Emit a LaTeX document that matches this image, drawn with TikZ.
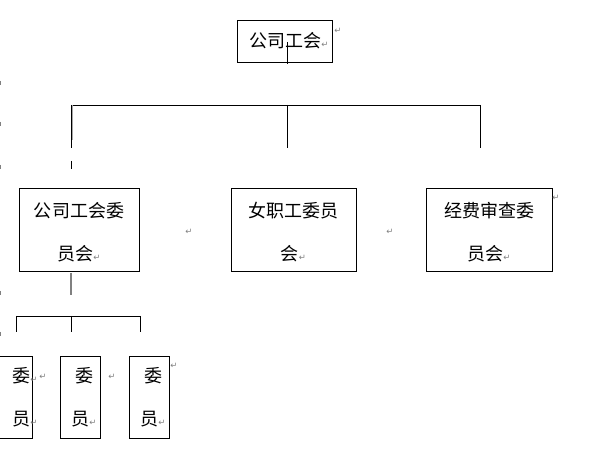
\documentclass[tikz,border=0pt]{standalone}
\usepackage{fontspec}
\usepackage{xcolor}
\usepackage{tikz}
\usetikzlibrary{positioning}
\newfontfamily\cjk{Noto Sans CJK SC}
\newfontfamily\symfont{DejaVu Sans}
\newcommand{\retmark}{{\symfont\fontsize{8.5}{8.5}\selectfont\textcolor{gray}{↵}}}
\newcommand{\padl}[1]{\hspace*{#1pt}}
\newcommand{\topstrut}{\rule{0pt}{20pt}}

\begin{document}
\begin{tikzpicture}[x=1pt,y=-1pt,
	box/.style={draw,line width=0.9pt,inner sep=0pt,align=center,
		font=\cjk\fontsize{18}{43}\selectfont},
	ret/.style={inner sep=0pt,font=\symfont\fontsize{8.5}{8.5}\selectfont,text=gray},
	wire/.style={line width=0.9pt}]
	\useasboundingbox (0,0) rectangle (589,454);
	%
	%  BOXES
	%
	\node[box,minimum width=95pt,minimum height=42pt] (U) at (284.5,41) {\padl{9}公司工会\retmark};
	\node[box,minimum width=120pt,minimum height=83pt] (A) at (79,229.5) {\topstrut{}公司工会委\\员会\retmark};
	\node[box,minimum width=125pt,minimum height=83pt] (B) at (293.5,229.5) {\topstrut{}女职工委员\\会\retmark};
	\node[box,minimum width=126pt,minimum height=83pt] (C) at (489,229.5) {\topstrut{}经费审查委\\员会\retmark};
	\node[box,minimum width=40pt,minimum height=82pt] (A1) at (12,397)
		{\makebox[0pt]{\padl{26}委\retmark}\\\makebox[0pt]{\padl{26}员\retmark}};
	\node[box,minimum width=40pt,minimum height=82pt] (A2) at (80,397) {\padl{9}委\\\padl{8}员\retmark};
	\node[box,minimum width=40pt,minimum height=82pt] (A3) at (149,397) {\padl{9}委\\\padl{8}员\retmark};
	%
	%  MARKS
	%
	\node[ret] (r1) at (338,31) {↵};
	\node[ret] (r2) at (189,232) {↵};
	\node[ret] (r3) at (390,232) {↵};
	\node[ret] (r4) at (556,198) {↵};
	\node[ret] (r5) at (43,377) {↵};
	\node[ret] (r6) at (112,377) {↵};
	\node[ret] (r7) at (174,366) {↵};
	\foreach \y in {83,124,167,293,334}
		\draw[gray,line width=1pt] (0.5,\y-2) -- (0.5,\y+2);
	%
	%  WIRES
	%
	\coordinate (u0) at (287,42);
	\coordinate (u1) at (287,64);
	\coordinate (busL) at (71,105);
	\coordinate (busM) at (287,105);
	\coordinate (busR) at (480,105);
	\coordinate (dL) at (71,148);
	\coordinate (dM) at (287,148);
	\coordinate (dR) at (480,148);
	\coordinate (tL0) at (71,161);
	\coordinate (tL1) at (71,169);
	\coordinate (a0) at (71,273);
	\coordinate (a1) at (71,295);
	\coordinate (sub1) at (16,316);
	\coordinate (sub2) at (71,316);
	\coordinate (sub3) at (140,316);
	\draw[wire] (u0) -- (u1);
	\draw[wire] (busL) -- (busR);
	\draw[wire] (busL) -- (dL);
	\draw[wire] (busM) -- (dM);
	\draw[wire] (busR) -- (dR);
	\draw[gray!70,line width=0.8pt] ([xshift=1.5pt]busL) -- ([xshift=1.5pt,yshift=-35pt]busL);
	\draw[wire] (tL0) -- (tL1);
	\draw[gray,line width=1.5pt] (a0) -- (a1);
	\draw[wire] (sub1) -- (sub3);
	\draw[wire] (sub1) -- ++(0,16);
	\draw[wire] (sub2) -- ++(0,16);
	\draw[wire] (sub3) -- ++(0,16);
\end{tikzpicture}
\end{document}
